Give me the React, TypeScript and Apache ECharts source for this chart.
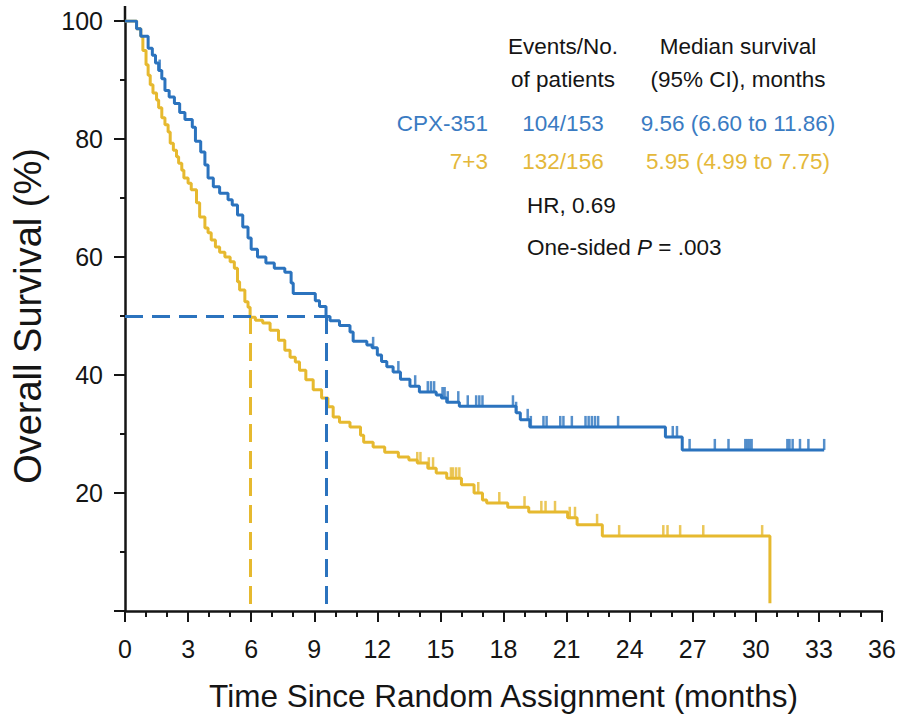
import React, { useEffect, useRef } from "react";
import * as echarts from "echarts";

// ---------- data ----------
const armNames = ["CPX-351", "7+3"];
const eventsText = ["104/153", "132/156"];
const medianText = ["9.56 (6.60 to 11.86)", "5.95 (4.99 to 7.75)"];
const medianMonths = [9.56, 5.95];
const hrText = "HR, 0.69";

const blueTimes = [0, 0.55, 0.75, 1.1, 1.3, 1.45, 1.6, 1.75, 1.9, 2.1, 2.35, 2.6, 2.85, 3.2, 3.35, 3.6, 3.8, 3.95, 4.2, 4.5, 4.9, 5.1, 5.35, 5.6, 5.85, 6.0, 6.3, 6.7, 7.1, 7.6, 7.9, 8.0, 9.05, 9.25, 9.56, 9.75, 10.2, 10.7, 10.85, 11.5, 11.75, 12.0, 12.2, 12.45, 12.75, 13.1, 13.55, 14.0, 14.8, 15.05, 15.3, 15.9, 18.6, 18.8, 19.25, 25.7, 26.5, 33.25];
const blueSurv = [100, 98.7, 97.4, 95.4, 94.2, 92.9, 91.6, 90.2, 88.2, 87.1, 86.0, 84.5, 83.3, 82.0, 79.6, 77.8, 75.6, 73.4, 71.9, 70.8, 69.7, 68.8, 67.1, 65.1, 63.2, 61.3, 60.0, 59.0, 58.1, 57.4, 55.6, 53.8, 52.6, 51.6, 49.9, 49.2, 48.4, 47.3, 45.7, 45.1, 44.6, 43.4, 42.3, 41.4, 40.5, 39.3, 38.1, 37.1, 36.6, 36.1, 35.4, 34.7, 33.6, 32.4, 31.2, 29.5, 27.3, 27.3];
const blueCensor = [1.65, 11.8, 13.0, 13.8, 14.4, 14.55, 14.7, 15.1, 15.2, 15.35, 15.85, 16.3, 16.7, 16.85, 17.0, 18.45, 18.6, 19.15, 19.3, 19.9, 20.05, 20.7, 20.85, 21.25, 21.9, 22.05, 22.2, 22.35, 22.5, 23.45, 26.05, 26.25, 26.85, 28.05, 28.7, 29.5, 29.6, 29.7, 29.8, 31.5, 31.6, 31.75, 32.1, 32.5, 33.25];

const yellowTimes = [0, 0.55, 0.75, 0.85, 1.0, 1.1, 1.2, 1.33, 1.5, 1.6, 1.75, 1.9, 2.05, 2.15, 2.3, 2.45, 2.55, 2.7, 2.8, 3.0, 3.15, 3.4, 3.55, 3.8, 3.95, 4.1, 4.3, 4.5, 4.75, 5.0, 5.2, 5.35, 5.45, 5.7, 5.85, 5.95, 6.2, 6.55, 6.9, 7.3, 7.6, 7.85, 8.1, 8.3, 8.6, 8.95, 9.35, 9.65, 9.9, 10.2, 10.7, 11.2, 11.35, 11.8, 12.35, 13.0, 13.5, 13.9, 14.4, 14.8, 15.3, 16.0, 16.6, 17.0, 17.2, 18.2, 19.2, 21.05, 21.5, 22.7, 30.67, 30.67];
const yellowSurv = [100, 98.7, 97.4, 95.0, 92.6, 90.8, 89.2, 87.8, 86.6, 85.3, 83.6, 82.4, 81.2, 79.3, 78.1, 77.0, 75.9, 74.7, 73.4, 72.5, 71.4, 69.2, 66.8, 64.9, 64.1, 62.9, 61.7, 60.8, 60.0, 59.2, 58.1, 55.8, 54.4, 52.4, 51.5, 49.8, 49.3, 48.8, 47.6, 45.9, 44.2, 43.0, 42.2, 40.8, 39.2, 37.5, 36.1, 34.6, 32.9, 32.0, 31.2, 29.8, 28.6, 27.8, 26.9, 26.1, 25.6, 25.1, 24.2, 23.4, 22.5, 21.4, 20.0, 18.8, 18.3, 17.6, 16.8, 15.8, 14.6, 12.7, 12.7, 1.3];
const yellowCensor = [13.9, 14.05, 14.45, 14.65, 15.5, 15.6, 15.75, 15.9, 16.8, 17.8, 19.0, 19.8, 20.0, 20.45, 21.15, 21.4, 22.45, 23.5, 25.6, 25.8, 26.4, 27.5, 30.3];

// ---------- styling ----------
const BLUE = "#2b73be";
const YELLOW = "#e6b92f";
const BLUE_TXT = "#3a7bc2";
const YELLOW_TXT = "#e4b83a";
const INK = "#151515";
const REG = "'Liberation Sans', Arial, Helvetica, sans-serif";

function stepValue(times: number[], surv: number[], t: number) {
  let v = surv[0];
  for (let i = 0; i < times.length; i++) {
    if (times[i] <= t) v = surv[i];
  }
  return v;
}

function pairs(times: number[], surv: number[]) {
  return times.map((t, i) => [t, surv[i]]);
}

export default function App() {
  const ref = useRef<HTMLDivElement>(null);

  useEffect(() => {
    if (!ref.current) return;
    const chart = echarts.init(ref.current, null, { renderer: "svg" });

    const dashStyle = (color: string) => ({ color, width: 3, type: [18, 9] as any });

    const annFont = { fontFamily: REG, fontSize: 22.5 };
    const txt = (text: string, x: number, y: number, align: string, fill: string) => ({
      type: "text",
      x,
      y,
      style: { text, align, verticalAlign: "middle", fill, ...annFont },
      silent: true,
    });

    const option: any = {
      animation: false,
      backgroundColor: "#ffffff",
      grid: { left: 125, right: 20, top: 21, bottom: 117, containLabel: false },
      xAxis: {
        type: "value",
        min: 0,
        max: 36,
        interval: 3,
        name: "Time Since Random Assignment (months)",
        nameLocation: "middle",
        nameGap: 69,
        nameTextStyle: { fontFamily: REG, fontSize: 31.5, color: INK },
        axisLine: { show: true, onZero: false, lineStyle: { color: INK, width: 2.5 } },
        axisTick: { show: true, length: 11, lineStyle: { color: INK, width: 2 } },
        minorTick: { show: true, splitNumber: 3, length: 6, lineStyle: { color: INK, width: 2 } },
        axisLabel: { fontFamily: REG, fontSize: 25, color: INK, margin: 25 },
        splitLine: { show: false },
        minorSplitLine: { show: false },
      },
      yAxis: {
        type: "value",
        min: 0,
        max: 100,
        interval: 20,
        name: "Overall Survival (%)",
        nameLocation: "middle",
        nameRotate: 90,
        nameGap: 78,
        nameTextStyle: { fontFamily: REG, fontSize: 38, color: INK },
        axisLine: { show: true, onZero: false, lineStyle: { color: INK, width: 2.5 } },
        axisTick: { show: true, length: 11, lineStyle: { color: INK, width: 2 } },
        minorTick: { show: true, splitNumber: 2, length: 5, lineStyle: { color: INK, width: 2 } },
        axisLabel: {
          fontFamily: REG,
          fontSize: 25,
          color: INK,
          margin: 22,
          formatter: (v: number) => (v === 0 ? "" : String(v)),
        },
        splitLine: { show: false },
        minorSplitLine: { show: false },
      },
      graphic: [
        { type: "line", shape: { x1: 125, y1: 6, x2: 125, y2: 22 }, style: { stroke: INK, lineWidth: 2.5 }, silent: true },
        txt("Events/No.", 563, 46, "center", INK),
        txt("of patients", 563, 79, "center", INK),
        txt("Median survival", 738, 46, "center", INK),
        txt("(95% CI), months", 738, 79, "center", INK),
        txt(armNames[0], 488, 123, "right", BLUE_TXT),
        txt(eventsText[0], 563, 123, "center", BLUE_TXT),
        txt(medianText[0], 738, 123, "center", BLUE_TXT),
        txt(armNames[1], 488, 161, "right", YELLOW_TXT),
        txt(eventsText[1], 563, 161, "center", YELLOW_TXT),
        txt(medianText[1], 738, 161, "center", YELLOW_TXT),
        txt(hrText, 527, 205, "left", INK),
        {
          type: "text",
          x: 527,
          y: 247,
          silent: true,
          style: {
            text: "{a|One-sided }{i|P}{a| = .003}",
            verticalAlign: "middle",
            align: "left",
            fill: INK,
            ...annFont,
            rich: {
              a: { ...annFont, fill: INK },
              i: { ...annFont, fill: INK, fontStyle: "italic" },
            },
          },
        },
      ],
      series: [
        {
          name: armNames[1],
          type: "line",
          step: "end",
          showSymbol: false,
          symbol: "none",
          z: 2,
          lineStyle: { color: YELLOW, width: 3 },
          itemStyle: { color: YELLOW },
          data: pairs(yellowTimes, yellowSurv),
          markLine: {
            silent: true,
            symbol: "none",
            label: { show: false },
            lineStyle: dashStyle(YELLOW),
            data: [[{ coord: [medianMonths[1], 50] }, { coord: [medianMonths[1], 0] }]],
          },
        },
        {
          name: armNames[0],
          type: "line",
          step: "end",
          showSymbol: false,
          symbol: "none",
          z: 3,
          lineStyle: { color: BLUE, width: 3 },
          itemStyle: { color: BLUE },
          data: pairs(blueTimes, blueSurv),
          markLine: {
            silent: true,
            symbol: "none",
            label: { show: false },
            lineStyle: dashStyle(BLUE),
            data: [
              [{ coord: [0, 50] }, { coord: [medianMonths[0], 50] }],
              [{ coord: [medianMonths[0], 50] }, { coord: [medianMonths[0], 0] }],
            ],
          },
        },
        {
          name: armNames[1] + " censored",
          type: "scatter",
          symbol: "rect",
          symbolSize: [2.5, 11],
          symbolOffset: [0, "-50%"],
          z: 2,
          itemStyle: { color: YELLOW },
          data: yellowCensor.map((t) => [t, stepValue(yellowTimes, yellowSurv, t)]),
        },
        {
          name: armNames[0] + " censored",
          type: "scatter",
          symbol: "rect",
          symbolSize: [2.5, 11],
          symbolOffset: [0, "-50%"],
          z: 3,
          itemStyle: { color: BLUE },
          data: blueCensor.map((t) => [t, stepValue(blueTimes, blueSurv, t)]),
        },
      ],
    };

    chart.setOption(option);
    return () => chart.dispose();
  }, []);

  return (
    <div
      ref={ref}
      style={{ position: "fixed", left: 0, top: 0, width: 902, height: 728, background: "#fff" }}
    />
  );
}
